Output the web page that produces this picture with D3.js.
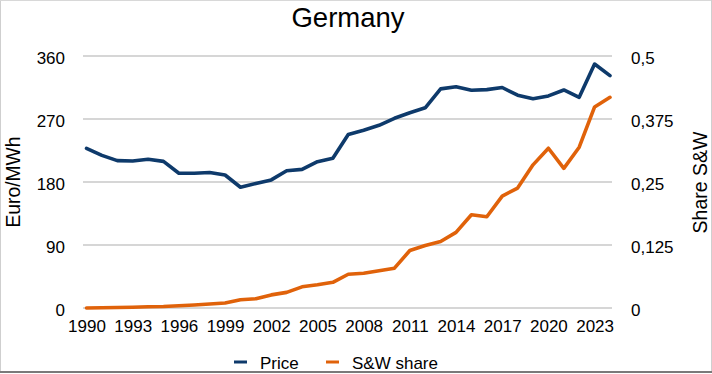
<!DOCTYPE html>
<html><head><meta charset="utf-8">
<script src="https://cdn.jsdelivr.net/npm/d3@7"></script>
<style>
html,body{margin:0;padding:0;background:#fff;}
svg{display:block;font-family:"Liberation Sans",Arial,Helvetica,sans-serif;}
</style></head>
<body>
<svg id="c" width="712" height="374"></svg>
<script>
const years = d3.range(1990, 2025);
const price = [228, 218, 210.5, 210, 212.5, 209.5, 192.5, 192.5, 193.5, 190, 172.5, 178, 183, 196, 198, 209, 214, 248, 254, 261, 271, 279, 286, 313, 316, 311, 312, 315, 304, 299, 303, 311.5, 301, 348.5, 332];
const share = [0, 0.0005, 0.001, 0.0015, 0.0025, 0.003, 0.0045, 0.006, 0.008, 0.0099, 0.0165, 0.0185, 0.026, 0.031, 0.042, 0.046, 0.051, 0.067, 0.069, 0.074, 0.079, 0.114, 0.124, 0.132, 0.150, 0.185, 0.181, 0.222, 0.238, 0.284, 0.317, 0.277, 0.319, 0.399, 0.418];
const yearTicks = [1990, 1993, 1996, 1999, 2002, 2005, 2008, 2011, 2014, 2017, 2020, 2023];
const leftTicks = [0, 90, 180, 270, 360];
const rightTicks = [0, 0.125, 0.25, 0.375, 0.5];
const seriesNames = ["Price", "S&W share"];
const colors = ["#0e3a6b", "#e0620a"];

const svg = d3.select("#c");
const x = d3.scaleLinear().domain([1990, 2024]).range([86.5, 610]);
const yL = d3.scaleLinear().domain([0, 360]).range([308, 56]);
const yR = d3.scaleLinear().domain([0, 0.5]).range([308, 56]);

// frame
svg.append("line").attr("x1",0.5).attr("x2",0.5).attr("y1",0).attr("y2",372).attr("stroke","#cfcfcf").attr("stroke-width",1);
svg.append("line").attr("x1",0).attr("x2",712).attr("y1",0.5).attr("y2",0.5).attr("stroke","#d8d8d8").attr("stroke-width",1);
svg.append("line").attr("x1",711.5).attr("x2",711.5).attr("y1",0).attr("y2",372).attr("stroke","#cfcfcf").attr("stroke-width",1);
svg.append("line").attr("x1",0).attr("x2",712).attr("y1",372).attr("y2",372).attr("stroke","#7a7a7a").attr("stroke-width",2);

// gridlines
svg.append("g").selectAll("line").data(leftTicks).join("line")
  .attr("x1", 83).attr("x2", 612)
  .attr("y1", d => yL(d)).attr("y2", d => yL(d))
  .attr("stroke", "#c9c9c9").attr("stroke-width", 1.5);

// left axis labels
const axL = d3.axisLeft(yL).tickValues(leftTicks).tickSize(0).tickPadding(0);
const gL = svg.append("g").attr("transform", "translate(65,0)").call(axL);
gL.select(".domain").remove();
gL.selectAll("text").attr("font-size", 17).attr("fill", "#000").attr("font-family", "Liberation Sans, Arial, sans-serif").attr("dy", "0.42em");

// right axis labels
const axR = d3.axisRight(yR).tickValues(rightTicks).tickSize(0).tickPadding(0)
  .tickFormat(d => String(d).replace(".", ","));
const gR = svg.append("g").attr("transform", "translate(631,0)").call(axR);
gR.select(".domain").remove();
gR.selectAll("text").attr("font-size", 17).attr("fill", "#000").attr("font-family", "Liberation Sans, Arial, sans-serif").attr("dy", "0.42em");

// x axis labels
const axX = d3.axisBottom(x).tickValues(yearTicks).tickSize(0).tickPadding(0).tickFormat(d3.format("d"));
const gX = svg.append("g").attr("transform", "translate(0,320)").call(axX);
gX.select(".domain").remove();
gX.selectAll("text").attr("font-size", 17).attr("fill", "#000").attr("font-family", "Liberation Sans, Arial, sans-serif").attr("dy", "0.72em");

// lines
const lineP = d3.line().x((d,i) => x(years[i])).y(d => yL(d));
const lineS = d3.line().x((d,i) => x(years[i])).y(d => yR(d));
svg.append("path").datum(share).attr("d", lineS).attr("fill","none")
  .attr("stroke", colors[1]).attr("stroke-width", 3.6).attr("stroke-linejoin","round").attr("stroke-linecap","round");
svg.append("path").datum(price).attr("d", lineP).attr("fill","none")
  .attr("stroke", colors[0]).attr("stroke-width", 3.6).attr("stroke-linejoin","round").attr("stroke-linecap","round");

// title
svg.append("text").attr("x", 348).attr("y", 27).attr("text-anchor","middle")
  .attr("font-size", 27.5).attr("fill","#000").text("Germany");

// axis titles
svg.append("text").attr("transform","translate(20,182) rotate(-90)").attr("text-anchor","middle")
  .attr("font-size", 19.3).attr("fill","#000").text("Euro/MWh");
svg.append("text").attr("transform","translate(707,182.5) rotate(-90)").attr("text-anchor","middle")
  .attr("font-size", 19.5).attr("fill","#000").text("Share S&W");

// legend
const legX = [234, 326];
const leg = svg.append("g");
seriesNames.forEach((n, i) => {
  leg.append("line").attr("x1", legX[i]).attr("x2", legX[i] + 13).attr("y1", 362).attr("y2", 362)
    .attr("stroke", colors[i]).attr("stroke-width", 3);
  leg.append("text").attr("x", legX[i] + 26).attr("y", 369).attr("font-size", 17).attr("fill", "#000").text(n);
});
</script>
</body></html>
